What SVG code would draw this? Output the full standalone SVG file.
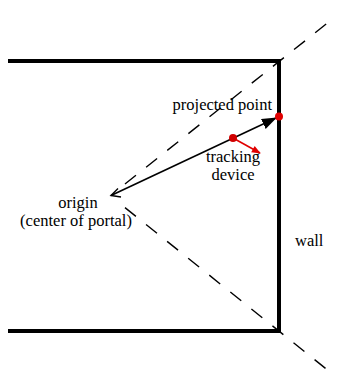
<svg xmlns="http://www.w3.org/2000/svg" width="340" height="382" viewBox="0 0 340 382">
  <style>
    .wall { stroke: #000; stroke-width: 4; fill: none; stroke-linecap: square; }
    .ray { stroke: #000; stroke-width: 1.4; fill: none; stroke-dasharray: 14 13; }
    .lbl { font-family: "Liberation Serif", "Times New Roman", serif; font-size: 16.5px; fill: #000; }
  </style>
  <defs>
    <marker id="headBlack" viewBox="0 0 15 11" refX="14" refY="5.5" markerWidth="15" markerHeight="11" markerUnits="userSpaceOnUse" orient="auto">
      <path d="M0,0 L15,5.5 L0,11 z" fill="#000"/>
    </marker>
    <marker id="headRed" viewBox="0 0 10 10" refX="9" refY="5" markerWidth="10" markerHeight="9" markerUnits="userSpaceOnUse" orient="auto">
      <path d="M0,1 L10,5 L0,9 z" fill="#e00000"/>
    </marker>
  </defs>

  <!-- room outline -->
  <g id="room">
    <path class="wall" d="M10,61 H279 V331 H10"/>
  </g>

  <g id="connectors">
    <!-- portal view frustum -->
    <line class="ray" x1="125" y1="184" x2="335" y2="17"/>
    <line class="ray" x1="125" y1="207.6" x2="335" y2="376"/>
    <!-- projection ray -->
    <line x1="111" y1="195.5" x2="276" y2="118" stroke="#000" stroke-width="1.6" marker-end="url(#headBlack)"/>
    <!-- device direction -->
    <line x1="233" y1="138" x2="260" y2="153" stroke="#e00000" stroke-width="1.6" marker-end="url(#headRed)"/>
    <!-- open head at the origin -->
    <path d="M118,188.5 L111,195.5 L121,197" stroke="#000" stroke-width="1.4" fill="none"/>
  </g>

  <g id="projected-point">
    <circle cx="279" cy="116.5" r="4" fill="#e00000"/>
    <text class="lbl" x="272" y="110" text-anchor="end">projected point</text>
  </g>

  <g id="tracking-device">
    <circle cx="233" cy="138" r="4" fill="#d00000"/>
    <text class="lbl" x="233" y="162" text-anchor="middle">tracking</text>
    <text class="lbl" x="233" y="180" text-anchor="middle">device</text>
  </g>

  <g id="origin">
    <text class="lbl" x="78" y="208" text-anchor="middle">origin</text>
    <text class="lbl" x="76" y="226" text-anchor="middle">(center of portal)</text>
  </g>

  <g id="wall-label">
    <text class="lbl" x="295" y="246">wall</text>
  </g>
</svg>
